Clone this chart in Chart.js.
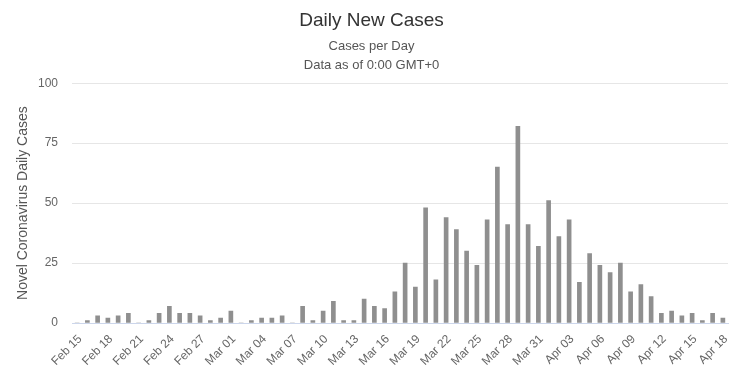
<!DOCTYPE html>
<html>
<head>
<meta charset="utf-8">
<script src="https://cdn.jsdelivr.net/npm/chart.js@4"></script>
<style>
  html, body { margin: 0; padding: 0; background: #fff; }
  #wrap { width: 745px; height: 384px; }
</style>
</head>
<body>
<div id="wrap"><canvas id="c" width="745" height="384"></canvas></div>
<script>
const dates = [
  "Feb 15","Feb 16","Feb 17","Feb 18","Feb 19","Feb 20","Feb 21","Feb 22","Feb 23","Feb 24",
  "Feb 25","Feb 26","Feb 27","Feb 28","Feb 29","Mar 01","Mar 02","Mar 03","Mar 04","Mar 05",
  "Mar 06","Mar 07","Mar 08","Mar 09","Mar 10","Mar 11","Mar 12","Mar 13","Mar 14","Mar 15",
  "Mar 16","Mar 17","Mar 18","Mar 19","Mar 20","Mar 21","Mar 22","Mar 23","Mar 24","Mar 25",
  "Mar 26","Mar 27","Mar 28","Mar 29","Mar 30","Mar 31","Apr 01","Apr 02","Apr 03","Apr 04",
  "Apr 05","Apr 06","Apr 07","Apr 08","Apr 09","Apr 10","Apr 11","Apr 12","Apr 13","Apr 14",
  "Apr 15","Apr 16","Apr 17","Apr 18"
];
const dailyCases = [
  0, 1, 3, 2, 3, 4, 0, 1, 4, 7,
  4, 4, 3, 1, 2, 5, 0, 1, 2, 2,
  3, 0, 7, 1, 5, 9, 1, 1, 10, 7,
  6, 13, 25, 15, 48, 18, 44, 39, 30, 24,
  43, 65, 41, 82, 41, 32, 51, 36, 43, 17,
  29, 24, 21, 25, 13, 16, 11, 4, 5, 3,
  4, 1, 4, 2
];
const yTicks = [0, 25, 50, 75, 100];
const labelEvery = 3;

const FONT = "'Liberation Sans', Arial, sans-serif";

new Chart(document.getElementById('c'), {
  type: 'bar',
  data: {
    labels: dates,
    datasets: [{
      label: 'Daily Cases',
      data: dailyCases,
      backgroundColor: '#8f8f8f',
      borderWidth: 0,
      barThickness: 4
    }]
  },
  options: {
    responsive: false,
    animation: false,
    layout: { padding: { left: 15, right: 17, top: 0, bottom: 0 } },
    plugins: {
      legend: { display: false },
      tooltip: { enabled: false },
      title: {
        display: true,
        text: 'Daily New Cases',
        color: '#333333',
        font: { family: FONT, size: 19, weight: 'normal' },
        padding: { top: 9, bottom: 6 }
      },
      subtitle: {
        display: true,
        text: ['Cases per Day', 'Data as of 0:00 GMT+0'],
        color: '#555555',
        font: { family: FONT, size: 13, weight: 'normal', lineHeight: 1.4 },
        padding: { top: 0, bottom: 9 }
      }
    },
    scales: {
      x: {
        type: 'category',
        offset: true,
        grid: { display: false, drawTicks: false },
        border: { display: true, color: '#ccd6eb', width: 1 },
        afterFit: function (scale) { scale.height = 61; },
        ticks: {
          autoSkip: false,
          maxRotation: 45,
          minRotation: 45,
          padding: 9,
          labelOffset: 3,
          color: '#666666',
          font: { family: FONT, size: 12 },
          callback: function (val, idx) {
            return idx % labelEvery === 0 ? dates[idx] : null;
          }
        }
      },
      y: {
        min: yTicks[0],
        max: yTicks[yTicks.length - 1],
        afterBuildTicks: function (scale) {
          scale.ticks = yTicks.map(v => ({ value: v }));
        },
        afterFit: function (scale) { scale.width = 57; },
        grid: { color: '#e6e6e6', drawTicks: false, lineWidth: 1 },
        border: { display: false },
        ticks: {
          padding: 14,
          color: '#666666',
          font: { family: FONT, size: 12 }
        },
        title: {
          display: true,
          text: 'Novel Coronavirus Daily Cases',
          color: '#555555',
          font: { family: FONT, size: 14 },
          padding: { top: 0, bottom: 0 }
        }
      }
    }
  }
});
</script>
</body>
</html>
